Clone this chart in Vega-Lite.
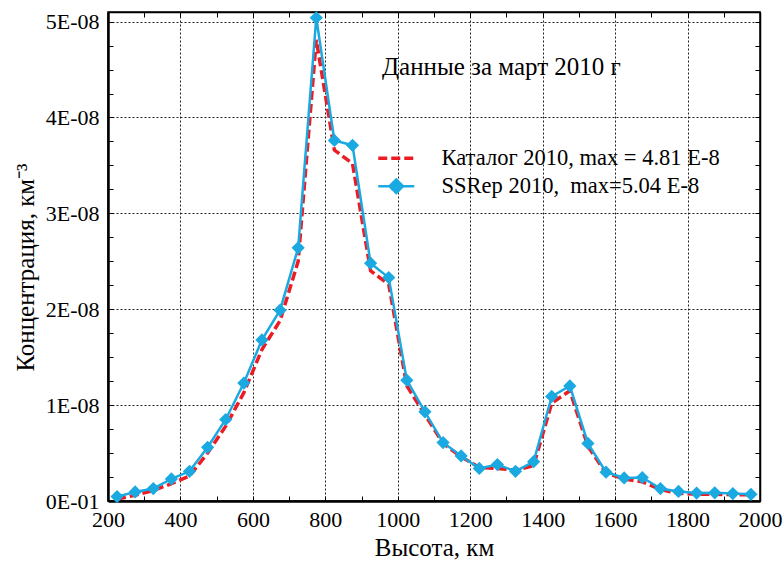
{
  "$schema": "https://vega.github.io/schema/vega-lite/v6.json",
  "width": 652,
  "height": 489,
  "autosize": "none",
  "padding": {"left": 108, "top": 12, "right": 24, "bottom": 65},
  "background": "white",
  "config": {
    "font": "Liberation Serif",
    "view": {"stroke": "black", "strokeWidth": 1.5},
    "axis": {"labelFont": "Liberation Serif", "titleFont": "Liberation Serif", "labelColor": "black", "titleColor": "black", "titleFontWeight": "normal"},
    "legend": {"labelFont": "Liberation Serif"}
  },
  "title": {
    "text": "Данные за март 2010 г",
    "anchor": "start",
    "frame": "group",
    "dx": 274,
    "dy": 89,
    "offset": 0,
    "baseline": "alphabetic",
    "fontSize": 25,
    "fontWeight": "normal",
    "font": "Liberation Serif",
    "color": "black"
  },
  "data": {
    "values": [
      {"h": 225, "c": 2.0e-10, "s": "Каталог 2010, max = 4.81 E-8"},
      {"h": 275, "c": 6.0e-10, "s": "Каталог 2010, max = 4.81 E-8"},
      {"h": 325, "c": 1.1e-9, "s": "Каталог 2010, max = 4.81 E-8"},
      {"h": 375, "c": 1.8e-9, "s": "Каталог 2010, max = 4.81 E-8"},
      {"h": 425, "c": 2.6e-9, "s": "Каталог 2010, max = 4.81 E-8"},
      {"h": 475, "c": 5.0e-9, "s": "Каталог 2010, max = 4.81 E-8"},
      {"h": 525, "c": 7.8e-9, "s": "Каталог 2010, max = 4.81 E-8"},
      {"h": 575, "c": 1.13e-8, "s": "Каталог 2010, max = 4.81 E-8"},
      {"h": 625, "c": 1.58e-8, "s": "Каталог 2010, max = 4.81 E-8"},
      {"h": 675, "c": 1.88e-8, "s": "Каталог 2010, max = 4.81 E-8"},
      {"h": 725, "c": 2.5e-8, "s": "Каталог 2010, max = 4.81 E-8"},
      {"h": 775, "c": 4.81e-8, "s": "Каталог 2010, max = 4.81 E-8"},
      {"h": 825, "c": 3.66e-8, "s": "Каталог 2010, max = 4.81 E-8"},
      {"h": 875, "c": 3.52e-8, "s": "Каталог 2010, max = 4.81 E-8"},
      {"h": 925, "c": 2.4e-8, "s": "Каталог 2010, max = 4.81 E-8"},
      {"h": 975, "c": 2.26e-8, "s": "Каталог 2010, max = 4.81 E-8"},
      {"h": 1025, "c": 1.2e-8, "s": "Каталог 2010, max = 4.81 E-8"},
      {"h": 1075, "c": 9.0e-9, "s": "Каталог 2010, max = 4.81 E-8"},
      {"h": 1125, "c": 6.0e-9, "s": "Каталог 2010, max = 4.81 E-8"},
      {"h": 1175, "c": 4.6e-9, "s": "Каталог 2010, max = 4.81 E-8"},
      {"h": 1225, "c": 3.5e-9, "s": "Каталог 2010, max = 4.81 E-8"},
      {"h": 1275, "c": 3.4e-9, "s": "Каталог 2010, max = 4.81 E-8"},
      {"h": 1325, "c": 3.2e-9, "s": "Каталог 2010, max = 4.81 E-8"},
      {"h": 1375, "c": 3.7e-9, "s": "Каталог 2010, max = 4.81 E-8"},
      {"h": 1425, "c": 1.02e-8, "s": "Каталог 2010, max = 4.81 E-8"},
      {"h": 1475, "c": 1.15e-8, "s": "Каталог 2010, max = 4.81 E-8"},
      {"h": 1525, "c": 5.7e-9, "s": "Каталог 2010, max = 4.81 E-8"},
      {"h": 1575, "c": 2.9e-9, "s": "Каталог 2010, max = 4.81 E-8"},
      {"h": 1625, "c": 2.3e-9, "s": "Каталог 2010, max = 4.81 E-8"},
      {"h": 1675, "c": 2.0e-9, "s": "Каталог 2010, max = 4.81 E-8"},
      {"h": 1725, "c": 1.2e-9, "s": "Каталог 2010, max = 4.81 E-8"},
      {"h": 1775, "c": 8.0e-10, "s": "Каталог 2010, max = 4.81 E-8"},
      {"h": 1825, "c": 7.0e-10, "s": "Каталог 2010, max = 4.81 E-8"},
      {"h": 1875, "c": 7.0e-10, "s": "Каталог 2010, max = 4.81 E-8"},
      {"h": 1925, "c": 6.5e-10, "s": "Каталог 2010, max = 4.81 E-8"},
      {"h": 1975, "c": 6.5e-10, "s": "Каталог 2010, max = 4.81 E-8"},
      {"h": 225, "c": 4.6e-10, "s": "SSRep 2010,\u00a0 max=5.04 E-8"},
      {"h": 275, "c": 9.4e-10, "s": "SSRep 2010,\u00a0 max=5.04 E-8"},
      {"h": 325, "c": 1.3e-9, "s": "SSRep 2010,\u00a0 max=5.04 E-8"},
      {"h": 375, "c": 2.3e-9, "s": "SSRep 2010,\u00a0 max=5.04 E-8"},
      {"h": 425, "c": 3.1e-9, "s": "SSRep 2010,\u00a0 max=5.04 E-8"},
      {"h": 475, "c": 5.6e-9, "s": "SSRep 2010,\u00a0 max=5.04 E-8"},
      {"h": 525, "c": 8.5e-9, "s": "SSRep 2010,\u00a0 max=5.04 E-8"},
      {"h": 575, "c": 1.23e-8, "s": "SSRep 2010,\u00a0 max=5.04 E-8"},
      {"h": 625, "c": 1.68e-8, "s": "SSRep 2010,\u00a0 max=5.04 E-8"},
      {"h": 675, "c": 1.99e-8, "s": "SSRep 2010,\u00a0 max=5.04 E-8"},
      {"h": 725, "c": 2.64e-8, "s": "SSRep 2010,\u00a0 max=5.04 E-8"},
      {"h": 775, "c": 5.04e-8, "s": "SSRep 2010,\u00a0 max=5.04 E-8"},
      {"h": 825, "c": 3.76e-8, "s": "SSRep 2010,\u00a0 max=5.04 E-8"},
      {"h": 875, "c": 3.71e-8, "s": "SSRep 2010,\u00a0 max=5.04 E-8"},
      {"h": 925, "c": 2.48e-8, "s": "SSRep 2010,\u00a0 max=5.04 E-8"},
      {"h": 975, "c": 2.33e-8, "s": "SSRep 2010,\u00a0 max=5.04 E-8"},
      {"h": 1025, "c": 1.26e-8, "s": "SSRep 2010,\u00a0 max=5.04 E-8"},
      {"h": 1075, "c": 9.3e-9, "s": "SSRep 2010,\u00a0 max=5.04 E-8"},
      {"h": 1125, "c": 6.1e-9, "s": "SSRep 2010,\u00a0 max=5.04 E-8"},
      {"h": 1175, "c": 4.7e-9, "s": "SSRep 2010,\u00a0 max=5.04 E-8"},
      {"h": 1225, "c": 3.4e-9, "s": "SSRep 2010,\u00a0 max=5.04 E-8"},
      {"h": 1275, "c": 3.8e-9, "s": "SSRep 2010,\u00a0 max=5.04 E-8"},
      {"h": 1325, "c": 3.1e-9, "s": "SSRep 2010,\u00a0 max=5.04 E-8"},
      {"h": 1375, "c": 4.1e-9, "s": "SSRep 2010,\u00a0 max=5.04 E-8"},
      {"h": 1425, "c": 1.09e-8, "s": "SSRep 2010,\u00a0 max=5.04 E-8"},
      {"h": 1475, "c": 1.2e-8, "s": "SSRep 2010,\u00a0 max=5.04 E-8"},
      {"h": 1525, "c": 6.0e-9, "s": "SSRep 2010,\u00a0 max=5.04 E-8"},
      {"h": 1575, "c": 3.0e-9, "s": "SSRep 2010,\u00a0 max=5.04 E-8"},
      {"h": 1625, "c": 2.4e-9, "s": "SSRep 2010,\u00a0 max=5.04 E-8"},
      {"h": 1675, "c": 2.45e-9, "s": "SSRep 2010,\u00a0 max=5.04 E-8"},
      {"h": 1725, "c": 1.3e-9, "s": "SSRep 2010,\u00a0 max=5.04 E-8"},
      {"h": 1775, "c": 1.0e-9, "s": "SSRep 2010,\u00a0 max=5.04 E-8"},
      {"h": 1825, "c": 8.3e-10, "s": "SSRep 2010,\u00a0 max=5.04 E-8"},
      {"h": 1875, "c": 8.5e-10, "s": "SSRep 2010,\u00a0 max=5.04 E-8"},
      {"h": 1925, "c": 7.7e-10, "s": "SSRep 2010,\u00a0 max=5.04 E-8"},
      {"h": 1975, "c": 7.0e-10, "s": "SSRep 2010,\u00a0 max=5.04 E-8"}
    ]
  },
  "resolve": {"axis": {"x": "independent", "y": "independent"}},
  "layer": [
    {
      "transform": [{"filter": {"field": "s", "equal": "Каталог 2010, max = 4.81 E-8"}}],
      "mark": {"type": "line", "strokeWidth": 3.5, "strokeDash": [9, 4]},
      "encoding": {
        "x": {
          "field": "h", "type": "quantitative",
          "scale": {"domain": [200, 2000], "nice": false, "zero": false},
          "axis": {
            "orient": "bottom",
            "values": [200, 300, 400, 500, 600, 700, 800, 900, 1000, 1100, 1200, 1300, 1400, 1500, 1600, 1700, 1800, 1900, 2000],
            "labelExpr": "datum.value % 200 == 0 ? format(datum.value, 'd') : ''",
            "labelOverlap": false,
            "labelFlush": false,
            "labelFont": "Liberation Serif",
            "labelFontSize": 22,
            "labelPadding": 13,
            "tickSize": -5,
            "tickColor": "black",
            "tickWidth": 1,
            "domainColor": "black",
            "domainWidth": 2.5,
            "grid": true,
            "gridColor": "#222",
            "gridDash": [2, 2],
            "gridWidth": 1,
            "gridOpacity": {"condition": {"test": "datum.value % 200 == 0", "value": 1}, "value": 0},
            "title": "Высота, км",
            "titleFont": "Liberation Serif",
            "titleFontSize": 25,
            "titlePadding": 5
          }
        },
        "y": {
          "field": "c", "type": "quantitative",
          "scale": {"domain": [0, 5.1e-8], "nice": false, "zero": true},
          "axis": {
            "orient": "left",
            "values": [0, 2.5e-9, 5e-9, 7.5e-9, 1e-8, 1.25e-8, 1.5e-8, 1.75e-8, 2e-8, 2.25e-8, 2.5e-8, 2.75e-8, 3e-8, 3.25e-8, 3.5e-8, 3.75e-8, 4e-8, 4.25e-8, 4.5e-8, 4.75e-8, 5e-8],
            "labelExpr": "round(datum.value * 4e8) % 4 == 0 ? (datum.value == 0 ? '0E-01' : round(datum.value * 1e8) + 'E-08') : ''",
            "labelOverlap": false,
            "labelFlush": false,
            "labelFont": "Liberation Serif",
            "labelFontSize": 22,
            "labelPadding": 14,
            "tickSize": -5,
            "tickColor": "black",
            "domainColor": "black",
            "domainWidth": 2.5,
            "grid": true,
            "gridColor": "#222",
            "gridDash": [2, 2],
            "gridWidth": 1,
            "gridOpacity": {"condition": {"test": "round(datum.value * 4e8) % 4 == 0", "value": 1}, "value": 0},
            "title": "Концентрация, км⁻³",
            "titleFont": "Liberation Serif",
            "titleFontSize": 25,
            "titlePadding": 7,
            "titleY": 255
          }
        },
        "color": {
          "field": "s", "type": "nominal",
          "scale": {"domain": ["Каталог 2010, max = 4.81 E-8", "SSRep 2010,\u00a0 max=5.04 E-8"], "range": ["#ED1C24", "#1AA9E1"]},
          "legend": {
            "orient": "none",
            "legendX": 277,
            "legendY": 135,
            "title": null,
            "labelFontSize": 22.5,
            "labelFont": "Liberation Serif",
            "labelColor": "black",
            "labelLimit": 0,
            "labelOffset": 34,
            "symbolSize": 324,
            "rowPadding": 4,
            "symbolType": "M-2,0H2",
            "encode": {
              "symbols": {
                "update": {
                  "shape": {"signal": "datum.index == 1 ? 'M-2,0H2M0,-0.75L0.75,0L0,0.75L-0.75,0Z' : 'M-2,0H2'"},
                  "fill": {"signal": "datum.index == 1 ? '#1AA9E1' : 'transparent'"},
                  "fillOpacity": {"value": 1},
                  "strokeDash": {"signal": "datum.index == 1 ? [1, 0] : [9, 4]"},
                  "strokeWidth": {"signal": "datum.index == 1 ? 2.5 : 3.5"}
                }
              }
            }
          }
        }
      }
    },
    {
      "transform": [{"filter": {"field": "s", "equal": "SSRep 2010,\u00a0 max=5.04 E-8"}}],
      "mark": {"type": "line", "strokeWidth": 2.5},
      "encoding": {
        "x": {
          "field": "h", "type": "quantitative",
          "axis": {
            "orient": "top",
            "values": [200, 300, 400, 500, 600, 700, 800, 900, 1000, 1100, 1200, 1300, 1400, 1500, 1600, 1700, 1800, 1900, 2000],
            "labels": false,
            "tickSize": -5,
            "tickColor": "black",
            "domainColor": "black",
            "domainWidth": 1.5,
            "grid": false,
            "title": null
          }
        },
        "y": {
          "field": "c", "type": "quantitative",
          "axis": {
            "orient": "right",
            "values": [0, 2.5e-9, 5e-9, 7.5e-9, 1e-8, 1.25e-8, 1.5e-8, 1.75e-8, 2e-8, 2.25e-8, 2.5e-8, 2.75e-8, 3e-8, 3.25e-8, 3.5e-8, 3.75e-8, 4e-8, 4.25e-8, 4.5e-8, 4.75e-8, 5e-8],
            "labels": false,
            "tickSize": -5,
            "tickColor": "black",
            "domainColor": "black",
            "domainWidth": 1.5,
            "grid": false,
            "title": null
          }
        },
        "color": {"field": "s", "type": "nominal"}
      }
    },
    {
      "transform": [{"filter": {"field": "s", "equal": "SSRep 2010,\u00a0 max=5.04 E-8"}}],
      "mark": {"type": "point", "shape": "diamond", "filled": true, "size": 175, "opacity": 1},
      "encoding": {
        "x": {"field": "h", "type": "quantitative", "axis": null},
        "y": {"field": "c", "type": "quantitative", "axis": null},
        "color": {"field": "s", "type": "nominal"}
      }
    }
  ]
}
